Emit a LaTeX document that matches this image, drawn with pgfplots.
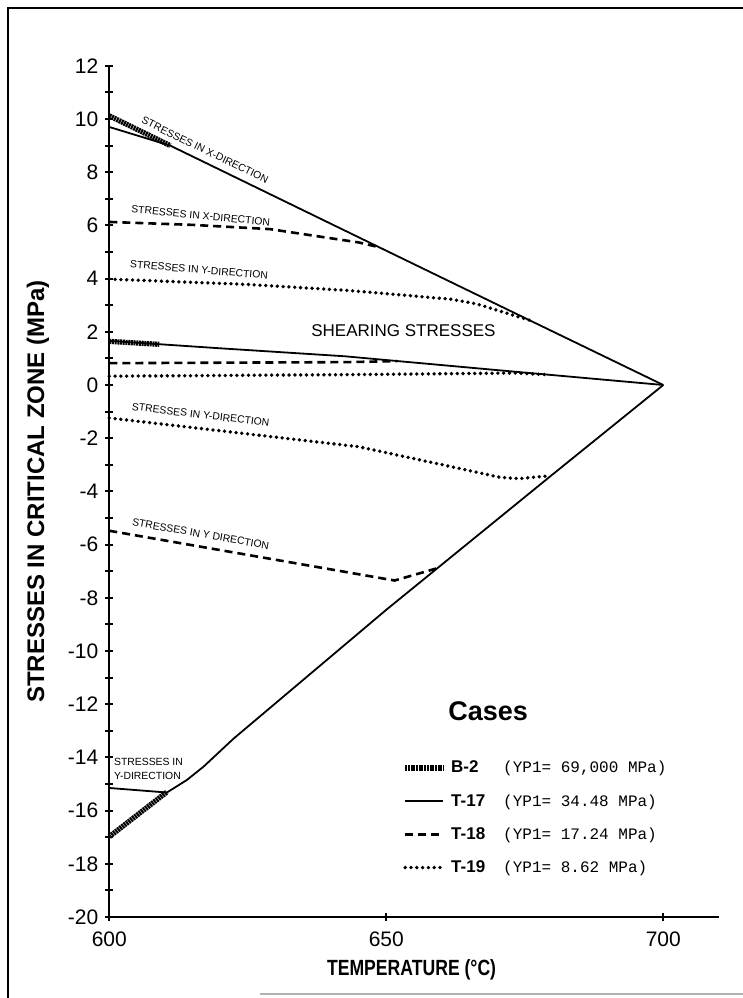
\documentclass[border=0pt]{standalone}
\usepackage{fontspec}
\setmainfont{Liberation Sans}
\setmonofont{Liberation Mono}
\usepackage{pgfplots}
\pgfplotsset{compat=1.18}
\tikzset{
  T17/.style={black, line width=0.9pt},
  T18/.style={black, line width=1.3pt, dash pattern=on 4pt off 2.5pt},
  T19/.style={black, line width=1.9pt, line cap=round, dash pattern=on 0pt off 2.9pt},
  B2/.style={black, line width=2.6pt, dash pattern=on 1pt off 0.35pt},
  ann/.style={font=\fontsize{5.2}{6}\selectfont, inner sep=0pt},
}
\begin{document}
\begin{tikzpicture}[x=1pt,y=1pt]
\useasboundingbox (0,0) rectangle (371.5,499);
\draw[line width=1pt] (4,0) -- (4,495) -- (371.5,495);
\draw[gray!60, line width=0.6pt] (130,2) -- (371.5,2);
\begin{axis}[
  at={(54.65pt,40.5pt)}, anchor=south west,
  scale only axis, width=304.7pt, height=425.6pt,
  xmin=600, xmax=710, ymin=-20, ymax=12,
  axis lines=left,
  axis line style={-, line width=0.9pt},
  x axis line style={line width=1.4pt},
  xtick={600,650,700}, xticklabels={600,650,700},
  ytick={-20,-18,...,12},
  yticklabels={-20,-18,-16,-14,-12,-10,-8,-6,-4,-2,0,2,4,6,8,10,12},
  minor y tick num=1,
  tick align=center, major tick length=4pt, minor tick length=4pt,
  tick style={line width=1pt, black},
  ticklabel style={font=\fontsize{10.5}{12}\selectfont},
  xticklabel style={yshift=-2pt},
  clip=false,
  legend style={at={(axis cs:652.8,-16.27)}, anchor=west, draw=none, fill=none,
    inner sep=0pt, row sep=7.6pt,
    nodes={inner sep=0pt, text height=7pt, text depth=2pt},
    /tikz/every odd column/.append style={column sep=2.5pt}},
  legend cell align=left,
  legend image code/.code={\draw[#1] (0pt,0pt) -- (19pt,0pt);},
]
% T-17
\addplot[T17, forget plot] coordinates {(600,9.7) (611,9.0) (648.3,5.22) (675.9,2.43) (700,0)};
\addplot[T17, forget plot] coordinates {(600,1.66) (620,1.38) (642.5,1.08) (670,0.56) (700,0)};
\addplot[T17, forget plot] coordinates {(600,-15.15) (610.4,-15.32) (614,-14.85) (617,-14.35) (622.4,-13.3) (650,-8.45) (679.5,-3.45) (700,0)};
% B-2
\addplot[B2, forget plot] coordinates {(600,10.12) (611,9.0)};
\addplot[B2, forget plot] coordinates {(600,1.64) (609,1.53)};
\addplot[B2, forget plot] coordinates {(600,-16.98) (610.4,-15.3)};
% T-18
\addplot[T18, forget plot] coordinates {(600,6.13) (615,6.02) (629,5.86) (645,5.36) (648.3,5.2)};
\addplot[T18, forget plot] coordinates {(600,0.82) (643,0.86) (652,0.9)};
\addplot[T18, forget plot] coordinates {(600,-5.48) (651.5,-7.35) (659,-6.9)};
% T-19
\addplot[T19, forget plot] coordinates {(600,3.98) (625,3.78) (643.4,3.55) (661.5,3.23) (666.3,3.05) (675.9,2.43)};
\addplot[T19, forget plot] coordinates {(600,0.33) (643,0.39) (673.5,0.45) (679.5,0.38)};
\addplot[T19, forget plot] coordinates {(600,-1.24) (645,-2.32) (661.5,-3.06) (670.5,-3.47) (674,-3.52) (679.5,-3.41)};

\addlegendimage{B2, line width=3pt}
\addlegendentry{\makebox[26pt][l]{\fontsize{8.5}{10}\selectfont\bfseries B-2}{\fontsize{8}{10}\selectfont\ttfamily (YP1= 69,000 MPa)}}
\addlegendimage{T17}
\addlegendentry{\makebox[26pt][l]{\fontsize{8.5}{10}\selectfont\bfseries T-17}{\fontsize{8}{10}\selectfont\ttfamily (YP1= 34.48 MPa)}}
\addlegendimage{T18}
\addlegendentry{\makebox[26pt][l]{\fontsize{8.5}{10}\selectfont\bfseries T-18}{\fontsize{8}{10}\selectfont\ttfamily (YP1= 17.24 MPa)}}
\addlegendimage{T19}
\addlegendentry{\makebox[26pt][l]{\fontsize{8.5}{10}\selectfont\bfseries T-19}{\fontsize{8}{10}\selectfont\ttfamily (YP1= 8.62 MPa)}}

\node[ann, rotate=-25.9] at (axis cs:617.3,8.83) {STRESSES IN X-DIRECTION};
\node[ann, rotate=-5.5] at (axis cs:616.5,6.37) {STRESSES IN X-DIRECTION};
\node[ann, rotate=-4.8] at (axis cs:616.2,4.33) {STRESSES IN Y-DIRECTION};
\node[font=\fontsize{8.5}{10}\selectfont] at (axis cs:653.1,2.04) {SHEARING STRESSES};
\node[ann, rotate=-6.9] at (axis cs:616.5,-1.12) {STRESSES IN Y-DIRECTION};
\node[ann, rotate=-10] at (axis cs:616.5,-5.6) {STRESSES IN Y DIRECTION};
\node[ann, anchor=west, align=left] at (axis cs:600.8,-14.45) {STRESSES IN\\[1pt]Y-DIRECTION};
\node[font=\fontsize{13.5}{16}\selectfont\bfseries] at (axis cs:668.4,-12.27) {Cases};
\end{axis}
\node[rotate=90, font=\fontsize{12}{14}\selectfont\bfseries] at (19,253.25) {STRESSES IN CRITICAL ZONE (MPa)};
\node[font=\fontsize{11}{13}\selectfont\bfseries] at (205.8,14) {\scalebox{0.8}[1]{TEMPERATURE (°C)}};
\end{tikzpicture}
\end{document}
